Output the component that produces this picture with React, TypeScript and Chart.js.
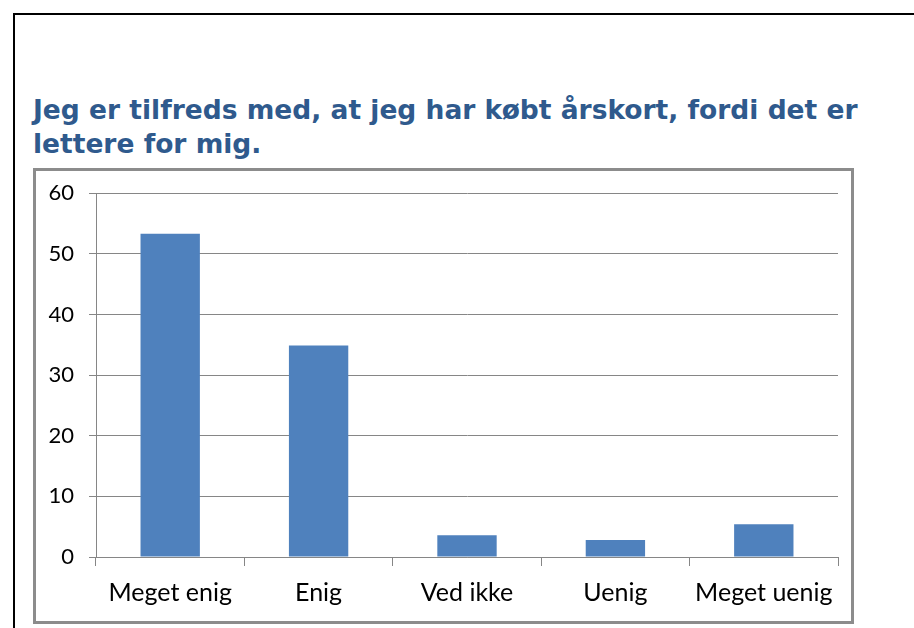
import React, { useEffect, useRef } from "react";
import { Chart, registerables } from "chart.js";

Chart.register(...registerables);

const TITLE_LINES = ["Jeg er tilfreds med, at jeg har købt årskort, fordi det er", "lettere for mig."];
const CATEGORIES = ["Meget enig", "Enig", "Ved ikke", "Uenig", "Meget uenig"];
const VALUES = [53.3, 34.9, 3.6, 2.8, 5.4];
const Y_MIN = 0;
const Y_MAX = 60;
const Y_STEP = 10;

const GRID = "#868686";
const BAR = "#4F81BD";
const TICK_FONT = "Lato, 'Open Sans', sans-serif";

export default function App() {
  const ref = useRef<HTMLCanvasElement | null>(null);

  useEffect(() => {
    if (!ref.current) return;
    const chart = new Chart(ref.current, {
      type: "bar",
      data: {
        labels: CATEGORIES,
        datasets: [
          {
            data: VALUES,
            backgroundColor: BAR,
            borderWidth: 0,
            barPercentage: 0.4,
            categoryPercentage: 1,
          },
        ],
      },
      options: {
        animation: false,
        responsive: false,
        maintainAspectRatio: false,
        layout: { padding: { top: 0, right: 13, left: 0, bottom: 0 } },
        plugins: {
          legend: { display: false },
          tooltip: { enabled: false },
          title: { display: false },
        },
        scales: {
          x: {
            grid: {
              display: true,
              drawOnChartArea: false,
              drawTicks: true,
              tickLength: 9,
              color: GRID,
              offset: true,
            },
            border: { display: true, color: GRID, width: 1 },
            ticks: {
              color: "#000",
              font: { family: TICK_FONT, size: 25 },
              padding: 12,
              maxRotation: 0,
              autoSkip: false,
            },
            afterFit: (s: any) => {
              s.height = 64;
            },
          },
          y: {
            min: Y_MIN,
            max: Y_MAX,
            grid: {
              color: GRID,
              lineWidth: 1,
              drawTicks: true,
              tickLength: 7,
            },
            border: { display: true, color: GRID, width: 1 },
            ticks: {
              stepSize: Y_STEP,
              color: "#000",
              font: { family: TICK_FONT, size: 22 },
              padding: 15,
            },
            afterFit: (s: any) => {
              s.width = 60;
            },
          },
        },
      },
    });
    return () => chart.destroy();
  }, []);

  return (
    <div
      style={{
        position: "fixed",
        left: 0,
        top: 0,
        width: 914,
        height: 628,
        background: "#fff",
        overflow: "hidden",
      }}
    >
      <div
        style={{
          position: "absolute",
          left: 13,
          top: 13,
          width: 1000,
          height: 1000,
          border: "2px solid #000",
        }}
      />
      <div
        style={{
          position: "absolute",
          left: 33,
          top: 93,
          width: 880,
          fontFamily: "'DejaVu Sans', Verdana, sans-serif",
          fontWeight: "bold",
          fontSize: 26.5,
          lineHeight: "34px",
          color: "#2F5A8D",
          whiteSpace: "nowrap",
        }}
      >
        {TITLE_LINES.map((l, i) => (
          <div key={i}>{l}</div>
        ))}
      </div>
      <div
        style={{
          position: "absolute",
          left: 33,
          top: 168,
          width: 821,
          height: 456,
          border: "3px solid #8C8C8C",
          boxSizing: "border-box",
          background: "#fff",
          overflow: "hidden",
        }}
      >
        <canvas
          ref={ref}
          width={815}
          height={456}
          style={{ display: "block", position: "absolute", left: 0, top: -6 }}
        />
      </div>
    </div>
  );
}
